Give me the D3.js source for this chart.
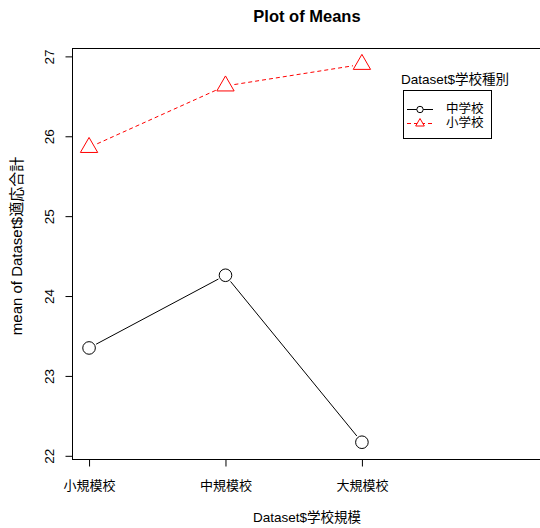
<!DOCTYPE html>
<html>
<head>
<meta charset="utf-8">
<script src="https://cdn.jsdelivr.net/npm/d3@7"></script>
<style>
  html, body { margin: 0; padding: 0; background: #fff; }
  svg { display: block; }
  text { font-family: "Liberation Sans", Arial, "Noto Sans CJK JP", sans-serif; fill: #000; }
</style>
</head>
<body>
<svg id="chart" width="540" height="528"></svg>
<script>
// School size levels on the x axis
const categories = ["小規模校", "中規模校", "大規模校"];
// Mean adaptation score per school size
const juniorHighMeans = [23.35, 24.26, 22.17];   // 中学校
const elementaryMeans = [25.86, 26.63, 26.90];   // 小学校
const seriesNames = ["中学校", "小学校"];
const yTicks = [22, 23, 24, 25, 26, 27];

const svg = d3.select("#chart");
const margin = { left: 72, top: 48, right: 542, bottom: 459 };
const cjk = "'Liberation Sans', Arial, 'Noto Sans CJK JP', sans-serif";
const fs = "13.5px";

const x = d3.scaleLinear().domain([0.875, 4.32]).range([margin.left, margin.right]);
const y = d3.scaleLinear().domain([21.96, 27.105]).range([margin.bottom, margin.top]);

// Plot frame
svg.append("rect")
  .attr("x", margin.left + 0.5).attr("y", margin.top + 0.5)
  .attr("width", margin.right - margin.left).attr("height", margin.bottom - margin.top)
  .attr("fill", "none").attr("stroke", "#000").attr("stroke-width", 1);

// Y axis (labels rotated, as in base graphics)
const yAxis = svg.append("g").attr("transform", `translate(${margin.left + 0.5},0)`)
  .call(d3.axisLeft(y).tickValues(yTicks).tickSize(7).tickPadding(0).tickFormat(d3.format("d")));
yAxis.select(".domain").attr("d", `M-0,${y(22)}V${y(27)}`).attr("stroke", "#000");
yAxis.selectAll(".tick line").attr("stroke", "#000");
yAxis.selectAll(".tick text")
  .attr("x", null).attr("dy", null)
  .attr("transform", "translate(-23,0) rotate(-90)")
  .attr("text-anchor", "middle").attr("dominant-baseline", "central")
  .style("font-size", fs).style("font-family", cjk);

// X axis with category labels
const xAxis = svg.append("g").attr("transform", `translate(0,${margin.bottom + 0.5})`)
  .call(d3.axisBottom(x).tickValues([1, 2, 3]).tickSize(7).tickPadding(14)
    .tickFormat(d => categories[d - 1]));
xAxis.select(".domain").attr("d", `M${x(1)},0H${x(3)}`).attr("stroke", "#000");
xAxis.selectAll(".tick line").attr("stroke", "#000");
xAxis.selectAll(".tick text").attr("dy", "0.71em")
  .style("font-size", "13px").style("font-family", cjk);

// Titles
svg.append("text").attr("x", 307).attr("y", 22).attr("text-anchor", "middle")
  .style("font-size", "16.5px").style("font-weight", "bold").text("Plot of Means");
svg.append("text").attr("x", 307).attr("y", 522).attr("text-anchor", "middle")
  .style("font-size", fs).style("font-family", cjk).text("Dataset$学校規模");
svg.append("text").attr("transform", "translate(22,246) rotate(-90)")
  .attr("text-anchor", "middle").style("font-size", "15px").style("font-family", cjk)
  .text("mean of Dataset$適応合計");

// Line segments between points, broken around each symbol (type "b")
function segments(values, gap) {
  const pts = values.map((v, i) => [x(i + 1), y(v)]);
  const segs = [];
  for (let i = 0; i < pts.length - 1; i++) {
    const [x0, y0] = pts[i], [x1, y1] = pts[i + 1];
    const len = Math.hypot(x1 - x0, y1 - y0);
    const ux = (x1 - x0) / len, uy = (y1 - y0) / len;
    segs.push([[x0 + ux * gap, y0 + uy * gap], [x1 - ux * gap, y1 - uy * gap]]);
  }
  return segs;
}
const line = d3.line();

function trianglePath(cx, cy, r) {
  const hw = r * Math.sqrt(3) / 2;
  return `M${cx},${cy - r}L${cx + hw},${cy + r / 2}L${cx - hw},${cy + r / 2}Z`;
}

// 中学校: solid black line, open circles
svg.append("g").selectAll("path").data(segments(juniorHighMeans, 8)).join("path")
  .attr("d", line).attr("fill", "none").attr("stroke", "#000").attr("stroke-width", 1);
svg.append("g").selectAll("circle").data(juniorHighMeans).join("circle")
  .attr("cx", (d, i) => x(i + 1)).attr("cy", d => y(d)).attr("r", 6.3)
  .attr("fill", "none").attr("stroke", "#000").attr("stroke-width", 1);

// 小学校: dashed red line, open triangles
svg.append("g").selectAll("path").data(segments(elementaryMeans, 9)).join("path")
  .attr("d", line).attr("fill", "none").attr("stroke", "#ff0000").attr("stroke-width", 1)
  .attr("stroke-dasharray", "4,3");
svg.append("g").selectAll("path").data(elementaryMeans).join("path")
  .attr("d", (d, i) => trianglePath(x(i + 1), y(d), 10))
  .attr("fill", "none").attr("stroke", "#ff0000").attr("stroke-width", 1);

// Legend
const lg = svg.append("g");
lg.append("text").attr("x", 401).attr("y", 84).style("font-size", fs)
  .style("font-family", cjk).text("Dataset$学校種別");
lg.append("rect").attr("x", 403.5).attr("y", 90.5).attr("width", 88).attr("height", 48)
  .attr("fill", "none").attr("stroke", "#000").attr("stroke-width", 1);
const rows = [
  { name: seriesNames[0], color: "#000", dash: null, sym: "circle", yy: 109 },
  { name: seriesNames[1], color: "#ff0000", dash: "4,3", sym: "triangle", yy: 123 }
];
rows.forEach(r => {
  lg.append("path").attr("d", `M407,${r.yy + 0.5}H433`).attr("stroke", r.color)
    .attr("stroke-dasharray", r.dash).attr("fill", "none");
  if (r.sym === "circle") {
    lg.append("circle").attr("cx", 420).attr("cy", r.yy + 0.5).attr("r", 3.2)
      .attr("fill", "#fff").attr("stroke", r.color);
  } else {
    lg.append("path").attr("d", trianglePath(420, r.yy + 0.5, 5))
      .attr("fill", "#fff").attr("stroke", r.color);
  }
  lg.append("text").attr("x", 446).attr("y", r.yy).attr("dominant-baseline", "central")
    .style("font-size", "12.5px").style("font-family", cjk).text(r.name);
});
</script>
</body>
</html>
